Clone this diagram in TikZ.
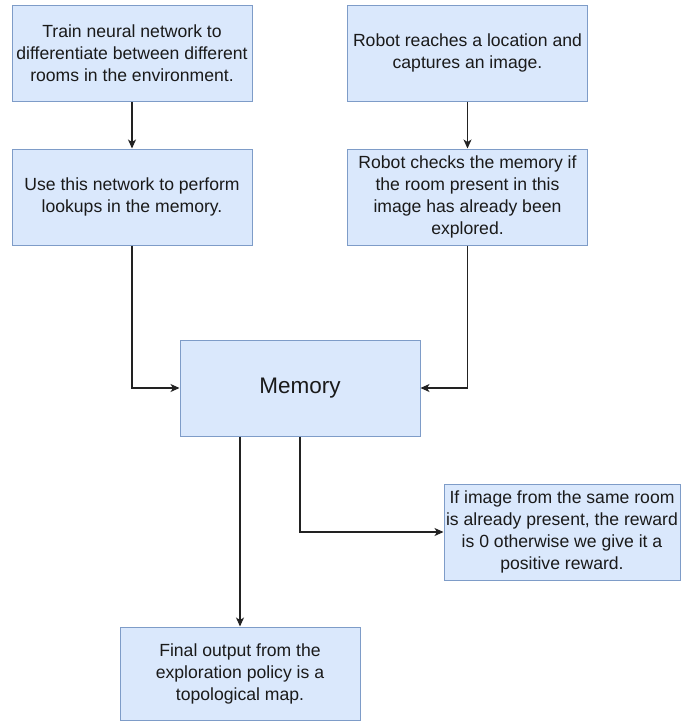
\documentclass[tikz,border=0pt]{standalone}
\usepackage{fontspec}
\setmainfont{Liberation Sans}
\usetikzlibrary{arrows.meta}
\definecolor{boxfill}{HTML}{DAE8FC}
\definecolor{boxdraw}{HTML}{7E9CC8}
\definecolor{txt}{HTML}{1A1A1A}
\definecolor{edge}{HTML}{222222}
\tikzset{
  box/.style={rectangle, fill=boxfill, draw=boxdraw, line width=1pt,
    minimum width=240pt, minimum height=96pt, inner sep=0pt, align=center,
    text=txt, font=\fontsize{17.6}{22}\selectfont},
  arr/.style={draw=edge, line width=1.2pt, -{Stealth[length=9pt,width=8pt,inset=2.5pt]}}
}
\begin{document}
\begin{tikzpicture}[x=1pt,y=-1pt]
\useasboundingbox (0,0) rectangle (683,721);
\fill[white] (0,0) rectangle (683,721);
\node[box] (train) at (132,53.5) {Train neural network to\\differentiate between different\\rooms in the environment.};
\node[box] (robot) at (467.5,53) {Robot reaches a location and\\captures an image.};
\node[box] (use) at (132,197) {Use this network to perform\\lookups in the memory.};
\node[box] (check) at (467.5,197) {Robot checks the memory if\\the room present in this\\image has already been\\explored.};
\node[box, font=\fontsize{22.5}{26}\selectfont] (mem) at (300,388) {Memory};
\node[box, minimum width=236pt] (rew) at (562,532) {If image from the same room\\is already present, the reward\\is 0 otherwise we give it a\\positive reward.};
\node[box, minimum height=93pt] (fin) at (240,673.5) {Final output from the\\exploration policy is a\\topological map.};
\draw[arr] (train) -- (use);
\draw[arr] (robot) -- (check);
\draw[arr] (use.south) |- (mem.west);
\draw[arr] (check.south) |- (mem.east);
\draw[arr] (mem.south -| fin.north) -- (fin.north);
\draw[arr] (mem.south) |- (rew.west);
\end{tikzpicture}
\end{document}
